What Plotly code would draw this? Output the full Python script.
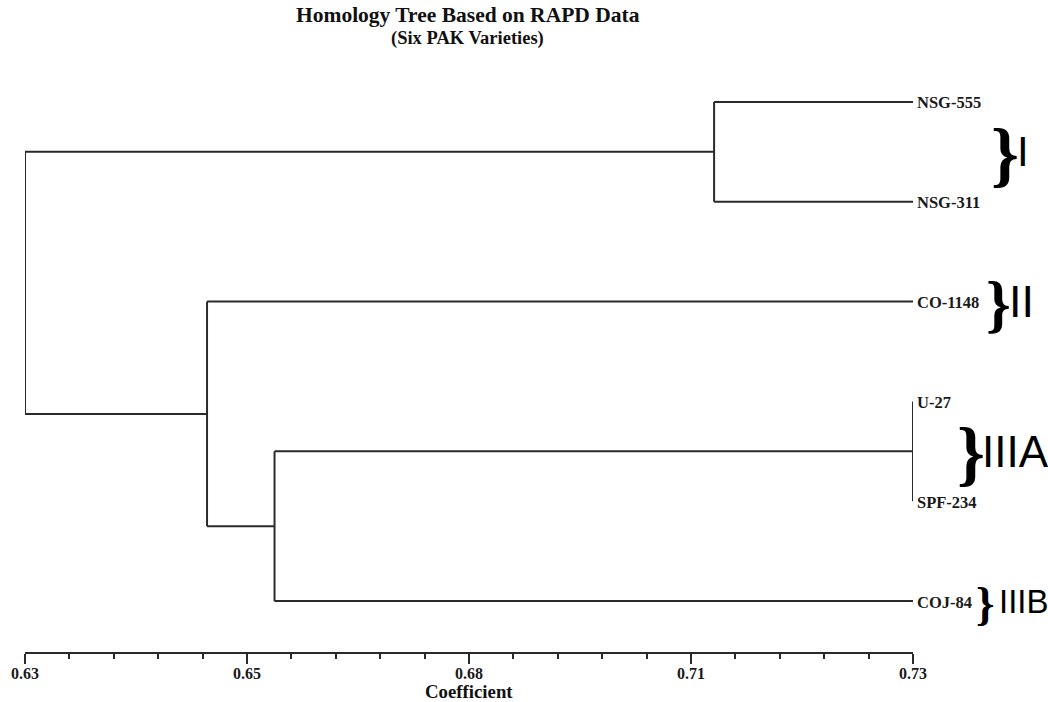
import plotly.graph_objects as go

# ---------------- data ----------------
leaf_names = ["NSG-555", "NSG-311", "CO-1148", "U-27", "SPF-234", "COJ-84"]
leaf_level = 0.73                      # coefficient of the leaves
# linkage: (child a, child b, coefficient); new cluster ids start at 6
link_a = [0, 3, 7, 2, 6]
link_b = [1, 4, 5, 8, 9]
link_h = [0.7076, 0.73, 0.6581, 0.6505, 0.63]

group_names = ["I", "II", "IIIA", "IIIB"]
group_members = [[0, 1], [2], [3, 4], [5]]

major_ticks = [0.63, 0.655, 0.68, 0.705, 0.73]
major_text = ["0.63", "0.65", "0.68", "0.71", "0.73"]
minor_ticks = [0.635, 0.64, 0.645, 0.65, 0.66, 0.665, 0.67, 0.675,
               0.685, 0.69, 0.695, 0.70, 0.71, 0.715, 0.72, 0.725]

# ---------------- layout geometry ----------------
W, H = 1048, 702
ML, MR, MT, MB = 25, 135, 60, 50
PW = W - ML - MR
PH = H - MT - MB


def px_x(px):
    return (px - ML) / PW


def px_y(py):
    return (H - MB - py) / PH


# ---------------- build dendrogram ----------------
node_x = {i: leaf_level for i in range(len(leaf_names))}
node_y = {i: float(i + 1) for i in range(len(leaf_names))}
xs, ys = [], []
for k, (a, b, h) in enumerate(zip(link_a, link_b, link_h)):
    nid = len(leaf_names) + k
    # vertical
    xs += [h, h, None]
    ys += [node_y[a], node_y[b], None]
    # horizontals from children
    for c in (a, b):
        xs += [node_x[c], h, None]
        ys += [node_y[c], node_y[c], None]
    node_x[nid] = h
    node_y[nid] = (node_y[a] + node_y[b]) / 2

fig = go.Figure()
fig.add_trace(go.Scatter(
    x=xs, y=ys, mode="lines",
    line=dict(color="#2a2a2a", width=2),
    cliponaxis=False, hoverinfo="skip", showlegend=False,
))

serif = "Liberation Serif, Times New Roman, serif"
sans = "Liberation Sans, Arial, sans-serif"

ann = []
# leaf labels
for i, name in enumerate(leaf_names):
    ann.append(dict(
        x=leaf_level, y=node_y[i], xref="x", yref="y",
        text=name, showarrow=False, xanchor="left", yanchor="middle",
        xshift=2, yshift=-1,
        font=dict(family=serif, size=16.5, color="#1a1a1a", weight="bold"),
    ))

# group braces and labels
brace_px = [992, 987, 958, 977]
brace_size = [71, 63, 71, 47]
label_px = [1015, 1007, 980, 997]
label_size = [42, 45, 44, 33]
for g, name in enumerate(group_names):
    yc = sum(node_y[m] for m in group_members[g]) / len(group_members[g])
    ann.append(dict(
        x=px_x(brace_px[g] - 3), y=yc, xref="paper", yref="y",
        text="}", showarrow=False, xanchor="left", yanchor="middle",
        yshift=-2,
        font=dict(family=serif, size=brace_size[g], color="#000000", weight="bold"),
    ))
    ann.append(dict(
        x=px_x(label_px[g]), y=yc, xref="paper", yref="y",
        text=name, showarrow=False, xanchor="left", yanchor="middle",
        font=dict(family=sans, size=label_size[g], color="#000000"),
    ))

# titles
ann.append(dict(
    x=px_x(467.5), y=px_y(15), xref="paper", yref="paper",
    text="Homology Tree Based on RAPD Data", showarrow=False,
    xanchor="center", yanchor="middle",
    font=dict(family=serif, size=21.5, color="#111111", weight="bold"),
))
ann.append(dict(
    x=px_x(467.5), y=px_y(39), xref="paper", yref="paper",
    text="(Six PAK Varieties)", showarrow=False,
    xanchor="center", yanchor="middle",
    font=dict(family=serif, size=18.5, color="#111111", weight="bold"),
))
ann.append(dict(
    x=px_x(468.5), y=px_y(691), xref="paper", yref="paper",
    text="Coefficient", showarrow=False,
    xanchor="center", yanchor="middle",
    font=dict(family=serif, size=18.8, color="#111111", weight="bold"),
))

fig.update_layout(
    width=W, height=H,
    margin=dict(l=ML, r=MR, t=MT, b=MB, pad=0),
    paper_bgcolor="white", plot_bgcolor="white",
    showlegend=False,
    annotations=ann,
    xaxis=dict(
        range=[0.63, 0.73], showgrid=False, zeroline=False,
        showline=True, linecolor="#2a2a2a", linewidth=2,
        ticks="outside", ticklen=10, tickwidth=2, tickcolor="#2a2a2a",
        tickmode="array", tickvals=major_ticks, ticktext=major_text,
        ticklabelstandoff=-4,
        tickfont=dict(family=serif, size=16, color="#1a1a1a", weight="bold"),
        minor=dict(tickmode="array", tickvals=minor_ticks, ticks="outside",
                   ticklen=5, tickwidth=2, tickcolor="#2a2a2a", showgrid=False),
        fixedrange=True,
    ),
    yaxis=dict(
        range=[6.51, 0.58], visible=False, showgrid=False, zeroline=False,
        fixedrange=True,
    ),
)

fig.write_html(
    "out.html",
    config={"displayModeBar": False},
    post_script="document.body.style.margin='0px';document.body.style.overflow='hidden';",
)
